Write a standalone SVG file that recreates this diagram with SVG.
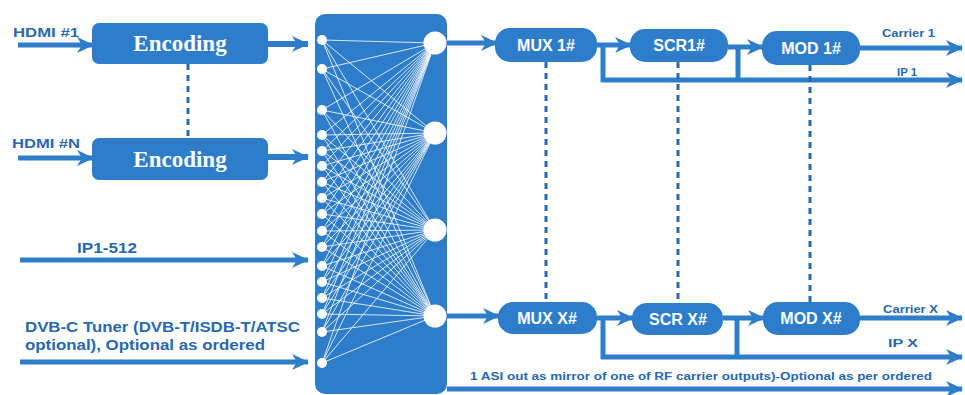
<svg xmlns="http://www.w3.org/2000/svg" width="965" height="395" viewBox="0 0 965 395">
<defs>
<style>
.box{fill:#2d7dca}
.enc{font-family:"Liberation Serif",serif;font-weight:bold;font-size:23px;fill:#ffffff;text-anchor:middle}
.bl{font-family:"Liberation Sans",Arial,sans-serif;font-weight:bold;font-size:16px;fill:#ffffff;text-anchor:middle}
.lbl{font-family:"Liberation Sans",Arial,sans-serif;font-weight:bold;fill:#2868b0}
.ar{stroke:#2d7dca;fill:none;marker-end:url(#ah)}
.ln{stroke:#2d7dca;fill:none}
.dot{stroke:#2a6aa8;stroke-width:3;stroke-dasharray:6 5;fill:none}
.mesh line{stroke:#ffffff;stroke-width:0.9;opacity:0.9}
</style>
<marker id="ah" markerUnits="userSpaceOnUse" markerWidth="18" markerHeight="18" refX="16" refY="9" orient="auto">
<path d="M0,1 L17,9 L0,17 L5,9 Z" fill="#2d7dca"/>
</marker>
</defs>
<rect width="965" height="395" fill="#ffffff"/>

<g id="connectors">
<line class="ar" x1="18" y1="45" x2="93" y2="45" stroke-width="5"/>
<line class="ar" x1="18" y1="158" x2="93" y2="158" stroke-width="5"/>
<line class="ar" x1="268" y1="44" x2="308" y2="44" stroke-width="6"/>
<line class="ar" x1="268" y1="157" x2="308" y2="157" stroke-width="6"/>
<line class="ar" x1="20" y1="260" x2="308" y2="260" stroke-width="5"/>
<line class="ar" x1="20" y1="362" x2="308" y2="362" stroke-width="5"/>
<line class="dot" x1="188" y1="64" x2="188" y2="138"/>

<line class="ar" x1="447" y1="43" x2="497" y2="43" stroke-width="5"/>
<line class="ar" x1="447" y1="316" x2="499" y2="316" stroke-width="5"/>
<line class="ar" x1="597" y1="45" x2="631" y2="45" stroke-width="5"/>
<line class="ar" x1="728" y1="47" x2="763" y2="47" stroke-width="5"/>
<line class="ar" x1="860" y1="48" x2="962" y2="48" stroke-width="5"/>
<line class="ln" x1="603" y1="45" x2="603" y2="82" stroke-width="5"/>
<line class="ln" x1="738" y1="47" x2="738" y2="82" stroke-width="5"/>
<line class="ar" x1="601" y1="80" x2="962" y2="80" stroke-width="5"/>

<line class="ar" x1="597" y1="318" x2="633" y2="318" stroke-width="5"/>
<line class="ar" x1="723" y1="318" x2="764" y2="318" stroke-width="5"/>
<line class="ar" x1="860" y1="318" x2="962" y2="318" stroke-width="5"/>
<line class="ln" x1="603" y1="318" x2="603" y2="359" stroke-width="5"/>
<line class="ln" x1="737" y1="318" x2="737" y2="359" stroke-width="5"/>
<line class="ar" x1="601" y1="357" x2="962" y2="357" stroke-width="5"/>
<line class="ar" x1="447" y1="389" x2="962" y2="389" stroke-width="5"/>

<line class="dot" x1="546" y1="62" x2="546" y2="302"/>
<line class="dot" x1="678" y1="62" x2="678" y2="303"/>
<line class="dot" x1="810" y1="65" x2="810" y2="302"/>

<text class="lbl" x="13" y="37" font-size="13" textLength="66" lengthAdjust="spacingAndGlyphs">HDMI #1</text>
<text class="lbl" x="12" y="148" font-size="13" textLength="68" lengthAdjust="spacingAndGlyphs">HDMI #N</text>
<text class="lbl" x="77" y="253" font-size="14" textLength="60" lengthAdjust="spacingAndGlyphs">IP1-512</text>
<text class="lbl" x="25" y="332" font-size="14" textLength="275" lengthAdjust="spacingAndGlyphs">DVB-C Tuner (DVB-T/ISDB-T/ATSC</text>
<text class="lbl" x="25" y="350" font-size="14" textLength="240" lengthAdjust="spacingAndGlyphs">optional), Optional as ordered</text>
<text class="lbl" x="882" y="37" font-size="11" textLength="53" lengthAdjust="spacingAndGlyphs">Carrier 1</text>
<text class="lbl" x="897" y="76" font-size="11" textLength="20" lengthAdjust="spacingAndGlyphs">IP 1</text>
<text class="lbl" x="883" y="313" font-size="11" textLength="55" lengthAdjust="spacingAndGlyphs">Carrier X</text>
<text class="lbl" x="888" y="347" font-size="11" textLength="30" lengthAdjust="spacingAndGlyphs">IP X</text>
<text class="lbl" x="470" y="380" font-size="11" textLength="462" lengthAdjust="spacingAndGlyphs">1 ASI out as mirror of one of RF carrier outputs)-Optional as per ordered</text>
</g>

<g id="encoding1">
<rect class="box" x="92" y="23" width="176" height="41" rx="7"/>
<text class="enc" x="180" y="51">Encoding</text>
</g>
<g id="encodingN">
<rect class="box" x="92" y="138" width="176" height="42" rx="7"/>
<text class="enc" x="180" y="167">Encoding</text>
</g>

<g id="matrix">
<rect class="box" x="315" y="14" width="132" height="380" rx="10"/>
<g class="mesh">
<line x1="322" y1="40" x2="435" y2="43"/><line x1="322" y1="40" x2="435" y2="133"/><line x1="322" y1="40" x2="435" y2="230"/><line x1="322" y1="40" x2="435" y2="316"/>
<line x1="322" y1="69" x2="435" y2="43"/><line x1="322" y1="69" x2="435" y2="133"/><line x1="322" y1="69" x2="435" y2="230"/><line x1="322" y1="69" x2="435" y2="316"/>
<line x1="322" y1="110" x2="435" y2="43"/><line x1="322" y1="110" x2="435" y2="133"/><line x1="322" y1="110" x2="435" y2="230"/><line x1="322" y1="110" x2="435" y2="316"/>
<line x1="322" y1="135" x2="435" y2="43"/><line x1="322" y1="135" x2="435" y2="133"/><line x1="322" y1="135" x2="435" y2="230"/><line x1="322" y1="135" x2="435" y2="316"/>
<line x1="322" y1="151" x2="435" y2="43"/><line x1="322" y1="151" x2="435" y2="133"/><line x1="322" y1="151" x2="435" y2="230"/><line x1="322" y1="151" x2="435" y2="316"/>
<line x1="322" y1="166" x2="435" y2="43"/><line x1="322" y1="166" x2="435" y2="133"/><line x1="322" y1="166" x2="435" y2="230"/><line x1="322" y1="166" x2="435" y2="316"/>
<line x1="322" y1="182" x2="435" y2="43"/><line x1="322" y1="182" x2="435" y2="133"/><line x1="322" y1="182" x2="435" y2="230"/><line x1="322" y1="182" x2="435" y2="316"/>
<line x1="322" y1="198" x2="435" y2="43"/><line x1="322" y1="198" x2="435" y2="133"/><line x1="322" y1="198" x2="435" y2="230"/><line x1="322" y1="198" x2="435" y2="316"/>
<line x1="322" y1="214" x2="435" y2="43"/><line x1="322" y1="214" x2="435" y2="133"/><line x1="322" y1="214" x2="435" y2="230"/><line x1="322" y1="214" x2="435" y2="316"/>
<line x1="322" y1="231" x2="435" y2="43"/><line x1="322" y1="231" x2="435" y2="133"/><line x1="322" y1="231" x2="435" y2="230"/><line x1="322" y1="231" x2="435" y2="316"/>
<line x1="322" y1="247" x2="435" y2="43"/><line x1="322" y1="247" x2="435" y2="133"/><line x1="322" y1="247" x2="435" y2="230"/><line x1="322" y1="247" x2="435" y2="316"/>
<line x1="322" y1="266" x2="435" y2="43"/><line x1="322" y1="266" x2="435" y2="133"/><line x1="322" y1="266" x2="435" y2="230"/><line x1="322" y1="266" x2="435" y2="316"/>
<line x1="322" y1="282" x2="435" y2="43"/><line x1="322" y1="282" x2="435" y2="133"/><line x1="322" y1="282" x2="435" y2="230"/><line x1="322" y1="282" x2="435" y2="316"/>
<line x1="322" y1="298" x2="435" y2="43"/><line x1="322" y1="298" x2="435" y2="133"/><line x1="322" y1="298" x2="435" y2="230"/><line x1="322" y1="298" x2="435" y2="316"/>
<line x1="322" y1="314" x2="435" y2="43"/><line x1="322" y1="314" x2="435" y2="133"/><line x1="322" y1="314" x2="435" y2="230"/><line x1="322" y1="314" x2="435" y2="316"/>
<line x1="322" y1="332" x2="435" y2="43"/><line x1="322" y1="332" x2="435" y2="133"/><line x1="322" y1="332" x2="435" y2="230"/><line x1="322" y1="332" x2="435" y2="316"/>
<line x1="322" y1="363" x2="435" y2="43"/><line x1="322" y1="363" x2="435" y2="133"/><line x1="322" y1="363" x2="435" y2="230"/><line x1="322" y1="363" x2="435" y2="316"/>
</g>
<g fill="#ffffff">
<circle cx="322" cy="40" r="5"/><circle cx="322" cy="69" r="5"/><circle cx="322" cy="110" r="5"/><circle cx="322" cy="135" r="5"/>
<circle cx="322" cy="151" r="5"/><circle cx="322" cy="166" r="5"/><circle cx="322" cy="182" r="5"/><circle cx="322" cy="198" r="5"/>
<circle cx="322" cy="214" r="5"/><circle cx="322" cy="231" r="5"/><circle cx="322" cy="247" r="5"/><circle cx="322" cy="266" r="5"/>
<circle cx="322" cy="282" r="5"/><circle cx="322" cy="298" r="5"/><circle cx="322" cy="314" r="5"/><circle cx="322" cy="332" r="5"/>
<circle cx="322" cy="363" r="5"/>
<circle cx="435" cy="43" r="11.5"/><circle cx="435" cy="133" r="11.5"/><circle cx="435" cy="230" r="11.5"/><circle cx="435" cy="316" r="11.5"/>
</g>
</g>

<g id="mux1">
<rect class="box" x="495" y="28" width="102" height="34" rx="15"/>
<text class="bl" x="546" y="51">MUX 1#</text>
</g>
<g id="scr1">
<rect class="box" x="630" y="29" width="98" height="33" rx="15"/>
<text class="bl" x="679" y="51">SCR1#</text>
</g>
<g id="mod1">
<rect class="box" x="762" y="31" width="98" height="34" rx="15"/>
<text class="bl" x="811" y="54">MOD 1#</text>
</g>
<g id="muxX">
<rect class="box" x="498" y="302" width="99" height="32" rx="15"/>
<text class="bl" x="547" y="324">MUX X#</text>
</g>
<g id="scrX">
<rect class="box" x="632" y="303" width="91" height="32" rx="15"/>
<text class="bl" x="678" y="325">SCR X#</text>
</g>
<g id="modX">
<rect class="box" x="763" y="302" width="97" height="33" rx="15"/>
<text class="bl" x="811" y="324">MOD X#</text>
</g>
</svg>
